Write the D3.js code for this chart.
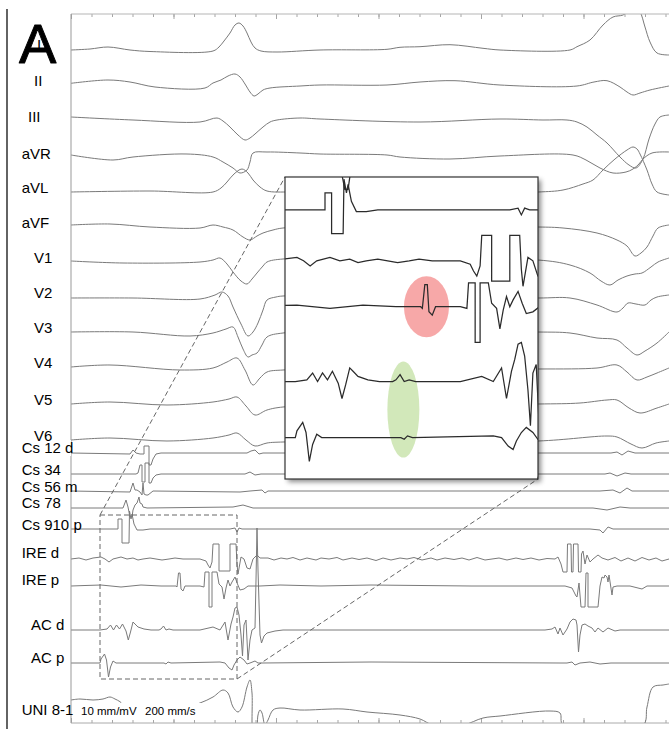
<!DOCTYPE html>
<html><head><meta charset="utf-8">
<script src="https://cdn.jsdelivr.net/npm/d3@7"></script>
<style>html,body{margin:0;padding:0;background:#fff;}svg{display:block;}</style>
</head><body>
<svg id="c" width="669" height="729"></svg>
<script>
// ---------- DATA (time in ms, amplitude in 0.1 mV) ----------
const channels = ["I","II","III","aVR","aVL","aVF","V1","V2","V3","V4","V5","V6",
  "Cs 12 d","Cs 34","Cs 56 m","Cs 78","Cs 910 p","IRE d","IRE p","AC d","AC p","UNI 8-1"];

const leadI = [[0,0],[19,1],[37,3],[59,0],[79,-1.5],[142,-1],[148,3],[153,9],[159,17],[164,25],[168,27],[172,24],[176,17],[180,8],[184,2],[190,-1],[206,-2],[249,0],[316,0.7],[329,2.7],[349,3.3],[379,5.3],[412,1.7],[429,0],[499,0],[506,3.3],[519,10],[532,25],[542,33],[552,35],[559,40],[564,42],[569,38],[574,23],[579,8],[586,-3],[598,-5]];
const leadII = [[0,0.7],[37,4],[59,2],[84,-3],[134,-4],[142,1],[150,4],[157,8],[164,10],[169,7],[174,0],[179,-8],[183,-12],[187,-10],[192,-6],[199,-4],[229,-2],[249,-1],[316,-1],[349,2],[384,3.3],[429,-1],[506,-2],[523,2],[536,3.3],[549,-3],[556,-8],[562,-11],[569,-9],[579,-6],[598,-2]];
const leadIII = [[0,2],[62,-1],[129,-3],[146,1],[152,-2],[159,-8],[167,-16],[174,-21],[179,-19],[184,-15],[192,-8],[199,-3],[206,-1],[229,1],[249,0],[349,-3],[429,0],[472,-1],[496,-1],[506,-3],[516,-8],[526,-16],[536,-24],[549,-38],[558,-46],[565,-49],[572,-40],[578,-20],[584,-5],[589,2],[598,4]];
const leadAVR = [[0,1],[42,-4],[62,-1],[116,2],[142,-1],[152,-6],[162,-12],[169,-17],[176,-14],[179,-6],[182,3],[196,4],[229,3],[249,2],[316,1],[329,-1],[379,-3],[429,0],[502,1],[515,-4],[529,-12],[542,-17],[555,-16],[562,-13],[568,-8],[572,-3],[581,3],[598,4]];
const leadAVL = [[0,0],[79,1],[142,0],[150,4],[156,10],[163,18],[171,23],[177,19],[182,12],[189,5],[196,1],[220,0],[300,1],[380,-1],[467,0],[492,2],[512,8],[522,12],[532,22],[544,33],[556,42],[562,45],[566,43],[569,38],[576,22],[581,8],[586,0],[598,-3]];
const leadAVF = [[0,1],[39,2],[79,-1],[129,-2],[142,1],[152,-1],[162,-4],[172,-11],[179,-14],[186,-10],[192,-7],[202,-4],[212,-2],[300,-1],[467,-1],[492,-2],[526,-7],[546,-14],[556,-20],[564,-30],[570,-27],[576,-21],[582,-10],[587,-2],[598,1]];
const leadV1 = [[0,0],[52,-2],[129,-1],[142,1],[149,3],[156,-3],[162,-11],[170,-20],[176,-23],[181,-18],[186,-12],[192,-5],[196,-1],[212,2],[300,1],[467,1],[499,-4],[519,-12],[530,-20],[539,-24],[547,-19],[556,-15],[564,-13],[571,-12],[580,-6],[587,-1],[598,3]];
const leadV2 = [[0,0],[62,0],[129,-1],[144,3],[151,6],[157,2],[162,-9],[170,-26],[177,-38],[182,-34],[187,-25],[192,-12],[196,-2],[205,1],[212,2],[300,1],[467,0],[499,0],[526,-7],[546,-14],[552,-10],[557,-5],[565,-6],[574,-7],[580,-2],[586,1],[598,3]];
const leadV3 = [[0,1],[62,1],[119,-3],[142,0],[155,4],[162,6],[167,-4],[172,-16],[177,-24],[181,-22],[186,-20],[191,-12],[196,-4],[212,0],[300,1],[467,1],[499,0],[526,-5],[546,-7],[556,-15],[566,-22],[574,-18],[586,-10],[598,1]];
const leadV4 = [[0,1],[39,3],[109,-2],[142,0],[156,6],[166,10],[174,-2],[182,-17],[189,-10],[196,-4],[212,-2],[300,0],[467,-1],[526,0],[546,3],[556,-4],[566,-12],[576,-9],[586,-5],[598,0]];
const leadV5 = [[0,0],[39,2],[96,-1],[142,2],[158,5],[166,7],[175,-2],[184,-11],[196,-6],[212,-3],[300,-1],[467,0],[509,1],[536,4],[546,4],[558,-4],[569,-9],[586,-4],[598,0]];
const leadV6 = [[0,0],[39,2],[96,-1],[142,2],[158,5],[166,7],[175,0],[184,-6],[196,-3],[212,-2],[300,-1],[467,-1],[536,4],[546,3],[560,-4],[571,-8],[585,-3],[598,-1]];
const cs12d = [[0,0],[59,-1],[62,3],[65,0],[69,-1],[73,-1],[73,7],[78,7],[78,-12],[80,-12],[82,-6],[85,-1],[90,0],[169,0],[176,0],[180,2],[184,3],[188,-1],[192,0],[540,0],[546,1],[551,-2],[557,2],[564,0],[598,0]];
const cs34 = [[0,0],[65,0],[67,1],[69,9],[71,9],[71,-8],[74,-8],[74,11],[78,11],[78,-9],[80,-9],[82,-4],[85,-1],[90,0],[174,0],[179,2],[184,-1],[190,0],[534,0],[539,1],[546,-2],[554,1],[560,0],[598,0]];
const cs56m = [[0,0],[59,-1],[62,8],[64,1],[66,1],[69,-1],[71,-4],[72,8],[73,-3],[75,-4],[77,-4],[82,0],[169,-1],[179,0],[191,1],[194,-2],[197,0],[529,0],[542,1],[549,-2],[556,3],[561,0],[598,0]];
const cs78 = [[0,0],[52,0],[55,8],[57,1],[59,-9],[61,-9],[62,-2],[64,3],[66,5],[68,11],[69,5],[71,4],[72,1],[76,0],[162,1],[172,3],[182,0],[522,0],[536,-2],[549,1],[559,0],[598,0]];
const cs910p = [[0,0],[47,0],[47,10],[51,10],[51,-14],[58,-14],[58.5,18],[60,10],[61,15],[63,5],[66,-1],[72,-1],[79,0],[159,0],[164,1],[166,-3],[168,1],[171,0],[519,0],[529,-1],[532,-4],[537,2],[542,0],[598,0]];
const ireD = [[0,0],[8,1],[15,-1],[22,1],[30,2],[34,0],[38,-3],[42,0],[50,2],[56,0],[62,1],[67,-1],[72,0],[79,1],[85,0],[91,-1],[98,0],[104,1],[112,0],[120,0],[129,0],[135,-2],[137,-6],[139,-9],[141,-3],[142,15],[148,15],[148,-12],[159,-12],[159,15],[165,15],[166,-5],[167,-15],[170,2],[173,0],[176,-9],[179,-10],[182,0],[186,4],[189,1],[197,1],[203,-1],[210,1],[216,0],[222,1.5],[229,-1],[236,1],[245,-1],[250,1],[258,0],[266,1.5],[272,-1],[281,1],[288,-0.5],[296,1],[305,-1.5],[312,1],[320,-1],[329,1],[336,0],[343,1.5],[351,-1],[360,1],[366,-1],[374,1],[383,-0.5],[391,1],[398,-1],[406,1.5],[414,-1],[421,0],[428,1],[436,-1],[445,1],[452,-0.5],[460,1],[468,-1],[476,0.5],[484,0],[487,2],[490,-5],[492,-13],[496,-13],[496.5,15],[500,15],[500.5,-13],[502,-13],[502.5,15],[507,15],[507.5,-13],[510,-13],[510.5,5],[512,8],[514,-5],[516,4],[519,-3],[522,0],[527,4],[531,1],[537,-1],[544,1.5],[550,-2],[557,1],[564,-2],[571,1.5],[578,-1],[585,1],[591,-2],[598,0]];
const ireP = [[0,0],[14,0.5],[30,1],[50,-1],[70,1],[90,0],[105,0],[106,-1],[107.5,13],[109,13],[110,-3],[112,-5],[114,0],[129,0],[133,-1],[134,14],[138,14],[138,-21],[141,-21],[141,14],[146,14],[148,2],[151,-1],[153,-13],[155,-2],[157,6],[159,0],[161,4],[164,9],[166.5,2],[169,-4],[173,-3],[177,0],[189,0],[209,1],[250,0],[300,1],[400,0],[494,0],[501,-2],[505,-10],[506,-11],[508,3],[510,-21],[514,-21],[515,13],[517,13],[517,-21],[527,-21],[529,0],[531,9],[533,8],[534,11],[536,9],[537,4],[538,11],[541,-9],[542,-1],[546,0],[559,0],[571,-3],[576,0],[598,0]];
const acD = [[0,0],[29,0],[36,1],[39.5,5],[42.5,0],[45.5,5],[48.5,1],[51.5,6],[55,-1],[57.3,-10],[59.5,-2],[62,8],[64,6],[67,3],[73,1],[80,0],[88,0],[90,1],[92.5,4],[95,0],[98,1],[102,0],[129,0],[142,3],[149,0],[154,8],[157,-10],[160,6],[162,13],[164,22],[166,23],[168,15],[170,-5],[171.5,-26],[173,5],[175,10],[177,-30],[179,-10],[181,0],[184,2],[185,50],[186,102],[187,60],[189,-5],[190.5,-13],[193,-6],[196,-3],[204,-1],[212,0],[300,0],[474,0],[481,1],[484,3],[487,-4],[489,2],[492,-5],[496,1],[499,8],[502,11],[505,10],[506,5],[507.5,-22],[509,-5],[511,5],[514,6],[517,4],[521,2],[524,-2],[527,2],[532,-2],[537,2],[544,-1],[549,0],[598,0]];
const acP = [[0,0],[29,0],[30,4],[33.5,9],[35.5,3],[37.5,-14],[39.5,-4],[42,2],[45,0],[49,0],[93,0],[95,-1],[97,1],[100,0],[149,1],[154,0],[158,-5],[161,-7],[163,-2],[166,3],[169,6],[173,3],[176,-1],[179,0],[184,2],[187,0],[191,0],[300,1],[489,0],[496,0],[501,1],[504,-2],[509,0],[519,1],[529,-1],[540,0],[598,0]];
const uni81 = [[0,5],[9,6],[22,5],[32,6],[39,8],[44,6],[49,3.3],[55,-2],[80,-4],[110,-3],[129,2],[142,8],[152,15],[157,12],[162,-2],[167,-7],[171,-2],[176,18],[179,25],[181,12],[182.5,-30],[185,-30],[187,-10],[189,-5],[191,-8],[194,-20],[197,-15],[202,-5],[209,-3],[229,-5],[272,-4],[296,-7],[329,-10],[349,-14],[362,-20],[392,-20],[412,-13],[429,-11],[479,-6],[489,-8],[492,-20],[572,-20],[576,-2],[582,18],[592,20],[598,21]];

const series = [leadI,leadII,leadIII,leadAVR,leadAVL,leadAVF,leadV1,leadV2,leadV3,leadV4,leadV5,leadV6,
  cs12d,cs34,cs56m,cs78,cs910p,ireD,ireP,acD,acP,uni81];
const smoothChannels = ["I","II","III","aVR","aVL","aVF","V1","V2","V3","V4","V5","V6","UNI 8-1"];

const minorTicks = d3.range(0, 598, 20.5);
const majorTicks = d3.range(0, 598, 102.5);
const calibText = ["10 mm/mV", "200 mm/s"];
const panelLetter = "A";
// highlighted regions in the magnified view: channel, time (ms)
const highlights = [
  {chA:"IRE p", chB:"IRE p", t:108.5, color:"#f06060", op:0.55, rx:22.5, ry:30.5},
  {chA:"AC d", chB:"AC p", t:94.5, color:"#9ccc65", op:0.45, rx:16, ry:48}
];

// ---------- LAYOUT ----------
const W = 669, H = 729;
const rowY   = [50,84,119,156,192,226,261,298,333,368,404,440,453,474,491,508,529,559,586,630,663,705];
const labelX = [37,34,28,21.7,21.7,21.7,34,34,34,34,34,34,21.7,21.7,21.7,21.7,21.7,21.7,21.7,31,31,21.7];
const labelY = [50,86,121.7,159.3,192.7,228.3,263.3,298.3,333.3,368.3,405,441,453.3,475,491.7,508.3,530,558.3,585,630,663.3,715];
const plot = {x0:71, x1:669, y0:14, y1:723};
const inset = {x:285, y:177, w:253, h:302};
const zoomBox = {t0:29, t1:166, y0:515, y1:679};

const svg = d3.select("#c");
const defs = svg.append("defs");
defs.append("clipPath").attr("id","cpMain").append("rect")
  .attr("x",plot.x0).attr("y",plot.y0).attr("width",plot.x1-plot.x0).attr("height",plot.y1-plot.y0);
defs.append("clipPath").attr("id","cpIn").append("rect")
  .attr("x",inset.x).attr("y",inset.y).attr("width",inset.w).attr("height",inset.h);
defs.append("filter").attr("id","sh").attr("x","-10%").attr("y","-10%").attr("width","130%").attr("height","130%")
  .append("feDropShadow").attr("dx",3).attr("dy",3).attr("stdDeviation",2.5)
  .attr("flood-color","#000").attr("flood-opacity",0.45);

// scales
const x = d3.scaleLinear().domain([0,598]).range([plot.x0, plot.x1]);
const amp = d3.scaleLinear().domain([0,1]).range([0,-1]); // 0.1 mV -> px (10 mm/mV)
const row = d3.scaleOrdinal().domain(channels).range(rowY);
const xIn = d3.scaleLinear().domain([22.76, 176.09]).range([inset.x, inset.x+inset.w]);
const yIn = d3.scaleLinear().domain([509.7, 687.35]).range([inset.y, inset.y+inset.h]);
const idY = d3.scaleIdentity();

function lineFor(ch, xs, ys){
  return d3.line()
    .x(d => xs(d[0]))
    .y(d => ys(row(ch) + amp(d[1])))
    .curve(smoothChannels.includes(ch) ? d3.curveCatmullRom.alpha(0.5) : d3.curveLinear);
}

// left black rule
svg.append("line").attr("x1",7).attr("x2",7).attr("y1",9).attr("y2",H)
  .attr("stroke","#222").attr("stroke-width",1.4);

// axes (ticks only)
function tickAxis(gen, y, vals, size){
  svg.append("g").attr("transform",`translate(0,${y})`)
    .call(gen(x).tickValues(vals).tickSize(size).tickFormat(""))
    .call(g => g.select(".domain").remove())
    .call(g => g.selectAll("line").attr("stroke","#a5a5a5"));
}
tickAxis(d3.axisBottom, plot.y0, minorTicks, 3);
tickAxis(d3.axisBottom, plot.y0, majorTicks, 5);
tickAxis(d3.axisTop, plot.y1, minorTicks, 3);
tickAxis(d3.axisTop, plot.y1, majorTicks, 5);

// traces (main)
const gMain = svg.append("g").attr("clip-path","url(#cpMain)");
channels.forEach((ch,i) => {
  gMain.append("path").attr("d", lineFor(ch, x, idY)(series[i]))
    .attr("fill","none").attr("stroke","#7a7a7a").attr("stroke-width",1);
});

// frame lines
svg.append("line").attr("x1",plot.x0).attr("x2",plot.x1).attr("y1",plot.y0).attr("y2",plot.y0).attr("stroke","#b5b5b5");
svg.append("line").attr("x1",plot.x0).attr("x2",plot.x0).attr("y1",plot.y0).attr("y2",plot.y1).attr("stroke","#999");

// labels
const font = "'Liberation Sans', Arial, Helvetica, sans-serif";
svg.append("rect").attr("x",20).attr("y",440).attr("width",51).attr("height",16).attr("fill","#fff");
channels.forEach((ch,i) => {
  svg.append("text").attr("x",labelX[i]).attr("y",labelY[i]).text(ch)
    .attr("font-family",font).attr("font-size",15).attr("fill","#000");
});
// calibration text with white background
svg.append("rect").attr("x",80).attr("y",703).attr("width",121).attr("height",16).attr("fill","#fff");
svg.append("text").attr("x",81).attr("y",715).text(calibText[0])
  .attr("font-family",font).attr("font-size",11.5).attr("fill","#000");
svg.append("text").attr("x",145).attr("y",715).text(calibText[1])
  .attr("font-family",font).attr("font-size",11.5).attr("fill","#000");
svg.append("line").attr("x1",plot.x0).attr("x2",plot.x1).attr("y1",plot.y1).attr("y2",plot.y1).attr("stroke","#aaa");

// panel letter
svg.append("text").attr("x",19).attr("y",62.5).text(panelLetter)
  .attr("font-family",font).attr("font-size",56).attr("fill","#000")
  .attr("stroke","#000").attr("stroke-width",0.9).attr("stroke-linejoin","round");

// zoom box + connectors
const dash = {stroke:"#666", "stroke-width":1, "stroke-dasharray":"5,3", fill:"none"};
function applyAttrs(sel, o){ Object.entries(o).forEach(([k,v]) => sel.attr(k,v)); return sel; }
applyAttrs(svg.append("rect").attr("x",x(zoomBox.t0)).attr("y",zoomBox.y0)
  .attr("width",x(zoomBox.t1)-x(zoomBox.t0)).attr("height",zoomBox.y1-zoomBox.y0), dash);
applyAttrs(svg.append("line").attr("x1",x(zoomBox.t0)).attr("y1",zoomBox.y0)
  .attr("x2",inset.x).attr("y2",inset.y), dash);
applyAttrs(svg.append("line").attr("x1",x(zoomBox.t1)).attr("y1",zoomBox.y1)
  .attr("x2",inset.x+inset.w).attr("y2",inset.y+inset.h), dash);

// inset
svg.append("rect").attr("x",inset.x).attr("y",inset.y).attr("width",inset.w).attr("height",inset.h)
  .attr("fill","#fff").attr("filter","url(#sh)");
const gIn = svg.append("g").attr("clip-path","url(#cpIn)");
highlights.forEach(h => {
  gIn.append("ellipse")
    .attr("cx", xIn(h.t))
    .attr("cy", (yIn(row(h.chA)) + yIn(row(h.chB)))/2)
    .attr("rx", h.rx).attr("ry", h.ry)
    .attr("fill", h.color).attr("opacity", h.op);
});
channels.forEach((ch,i) => {
  gIn.append("path").attr("d", lineFor(ch, xIn, yIn)(series[i]))
    .attr("fill","none").attr("stroke","#2b2b2b").attr("stroke-width",1.25);
});
svg.append("rect").attr("x",inset.x).attr("y",inset.y).attr("width",inset.w).attr("height",inset.h)
  .attr("fill","none").attr("stroke","#333").attr("stroke-width",1.2);
</script>
</body></html>
